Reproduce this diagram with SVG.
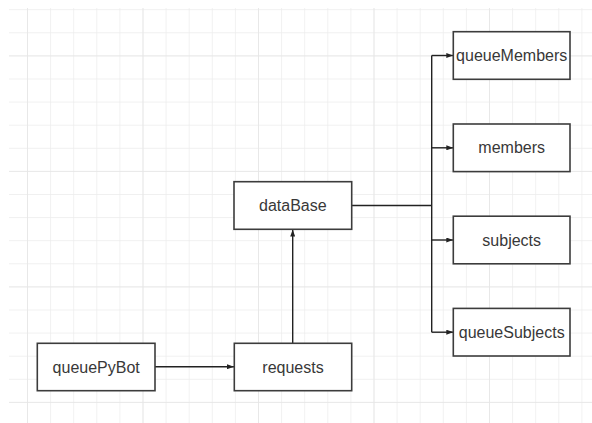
<svg xmlns="http://www.w3.org/2000/svg" width="592" height="423" viewBox="0 0 592 423">
  <defs>
    <pattern id="grid" x="3.9" y="9.2" width="23.1" height="23.1" patternUnits="userSpaceOnUse">
      <path d="M 23.1 0 L 0 0 0 23.1" fill="none" stroke="#ececec" stroke-width="1.4"/>
    </pattern>
    <pattern id="gridMajor" x="27" y="55.4" width="115.5" height="115.5" patternUnits="userSpaceOnUse">
      <path d="M 115.5 0 L 0 0 0 115.5" fill="none" stroke="#e6e6e6" stroke-width="1.6"/>
    </pattern>
    <marker id="arrow" viewBox="0 0 7 5" refX="7" refY="2.5" markerWidth="7" markerHeight="5" markerUnits="userSpaceOnUse" orient="auto">
      <path d="M 0 0 L 7 2.5 L 0 5 z" fill="#222"/>
    </marker>
  </defs>
  <style>
    .node rect { fill: #ffffff; stroke: #3c3c3c; stroke-width: 1.6; }
    .node text { font-family: "Liberation Sans", Arial, sans-serif; font-size: 16px; fill: #383838; text-anchor: middle; }
    .edge { fill: none; stroke: #222222; stroke-width: 1.4; }
  </style>

  <!-- background grid -->
  <rect width="592" height="423" fill="#ffffff"/>
  <rect x="9" y="8" width="583" height="415" fill="url(#grid)"/>
  <rect x="9" y="8" width="583" height="415" fill="url(#gridMajor)"/>

  <!-- connectors -->
  <g id="connectors">
    <path class="edge" d="M 155 366.7 L 234 366.7" marker-end="url(#arrow)"/>
    <path class="edge" d="M 292.7 343.3 L 292.7 229.6" marker-end="url(#arrow)"/>
    <path class="edge" d="M 352 205.5 L 431.7 205.5"/>
    <path class="edge" d="M 431.7 55.5 L 431.7 332.2"/>
    <path class="edge" d="M 431.7 55.5 L 453.3 55.5" marker-end="url(#arrow)"/>
    <path class="edge" d="M 431.7 147.8 L 453.3 147.8" marker-end="url(#arrow)"/>
    <path class="edge" d="M 431.7 240 L 453.3 240" marker-end="url(#arrow)"/>
    <path class="edge" d="M 431.7 332.2 L 453.3 332.2" marker-end="url(#arrow)"/>
  </g>

  <!-- nodes -->
  <g id="queuePyBot" class="node">
    <rect x="37.3" y="343.3" width="117.7" height="47.4"/>
    <text x="96.2" y="372.5">queuePyBot</text>
  </g>
  <g id="requests" class="node">
    <rect x="234.3" y="343.3" width="117.4" height="47.4"/>
    <text x="293" y="372.5">requests</text>
  </g>
  <g id="dataBase" class="node">
    <rect x="234" y="181.7" width="117.7" height="47.6"/>
    <text x="292.8" y="211">dataBase</text>
  </g>
  <g id="queueMembers" class="node">
    <rect x="453.3" y="31.7" width="116.7" height="47.6"/>
    <text x="511.7" y="61">queueMembers</text>
  </g>
  <g id="members" class="node">
    <rect x="453.3" y="124" width="116.7" height="47.6"/>
    <text x="511.7" y="153.3">members</text>
  </g>
  <g id="subjects" class="node">
    <rect x="453.3" y="216.2" width="116.7" height="47.6"/>
    <text x="511.7" y="245.5">subjects</text>
  </g>
  <g id="queueSubjects" class="node">
    <rect x="453.3" y="308.4" width="116.7" height="47.6"/>
    <text x="511.7" y="337.7">queueSubjects</text>
  </g>
</svg>
